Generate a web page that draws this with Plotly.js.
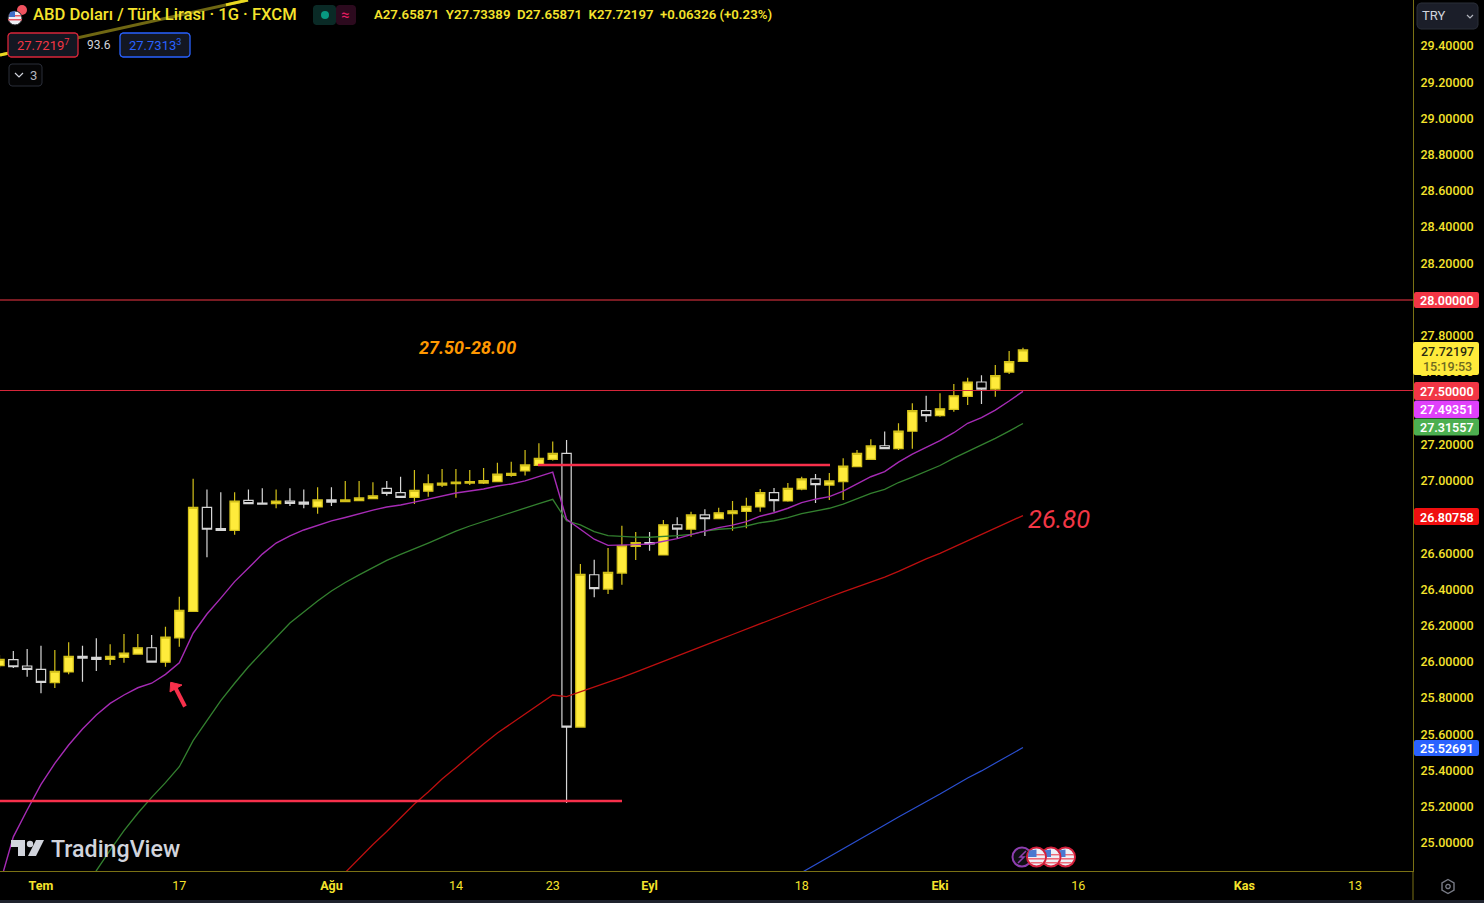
<!DOCTYPE html>
<html><head><meta charset="utf-8">
<script src="https://cdn.plot.ly/plotly-3.0.1.min.js"></script>
<style>html,body{margin:0;padding:0;background:#000;overflow:hidden}#c{width:1484px;height:903px}</style>
</head><body><div id="c"></div>
<script>
const openP=[25.979,26.012,25.977,25.959,25.885,25.944,26.031,26.025,26.014,26.025,26.043,26.078,25.998,26.132,26.279,26.853,26.735,26.726,26.892,26.877,26.873,26.888,26.882,26.855,26.894,26.884,26.890,26.901,26.958,26.934,26.908,26.942,26.976,26.984,26.987,26.987,26.995,27.030,27.054,27.085,27.118,27.151,25.640,26.481,26.402,26.490,26.638,26.658,26.590,26.757,26.732,26.811,26.790,26.818,26.831,26.855,26.934,26.888,26.954,27.010,26.976,26.995,27.077,27.118,27.193,27.177,27.273,27.387,27.359,27.394,27.466,27.545,27.506,27.600,27.65871];
const highP=[26.038,26.060,26.071,26.089,26.065,26.108,26.089,26.130,26.097,26.154,26.154,26.148,26.194,26.360,27.011,26.952,26.936,26.936,26.952,26.958,26.952,26.958,26.952,26.964,26.964,26.998,26.998,26.991,26.998,27.022,27.059,27.036,27.065,27.065,27.059,27.070,27.099,27.105,27.170,27.207,27.216,27.225,26.540,26.564,26.628,26.752,26.717,26.717,26.783,26.798,26.829,26.842,26.851,26.888,26.906,26.954,26.960,26.987,27.022,27.037,27.042,27.124,27.170,27.229,27.271,27.317,27.427,27.469,27.483,27.534,27.569,27.582,27.639,27.716,27.73389];
const lowP=[25.966,25.966,25.918,25.826,25.855,25.931,25.890,25.950,25.983,25.995,26.043,25.998,25.973,26.084,26.279,26.577,26.726,26.702,26.873,26.871,26.848,26.860,26.848,26.818,26.860,26.884,26.890,26.901,26.917,26.908,26.871,26.912,26.965,26.906,26.976,26.982,26.995,27.022,27.029,27.085,27.111,25.221,25.640,26.356,26.375,26.426,26.562,26.614,26.590,26.682,26.691,26.695,26.790,26.724,26.737,26.829,26.829,26.884,26.947,26.877,26.894,26.894,27.077,27.118,27.177,27.170,27.177,27.324,27.353,27.381,27.418,27.423,27.464,27.589,27.65871];
const closeP=[26.014,25.973,25.959,25.887,25.948,26.031,26.020,26.014,26.031,26.049,26.078,25.998,26.137,26.285,26.853,26.732,26.726,26.888,26.873,26.871,26.888,26.875,26.871,26.894,26.882,26.894,26.905,26.917,26.930,26.908,26.947,26.982,26.987,26.993,26.995,27.000,27.036,27.041,27.087,27.124,27.151,25.640,26.483,26.404,26.494,26.641,26.658,26.651,26.757,26.733,26.811,26.790,26.823,26.834,26.859,26.934,26.890,26.958,27.010,26.978,26.999,27.081,27.151,27.192,27.177,27.274,27.387,27.359,27.397,27.469,27.545,27.506,27.580,27.657,27.72197];
const purpleMA=[24.768,25.034,25.182,25.324,25.440,25.541,25.629,25.707,25.771,25.817,25.857,25.882,25.931,25.995,26.158,26.264,26.352,26.443,26.518,26.595,26.656,26.695,26.728,26.755,26.778,26.797,26.819,26.838,26.855,26.866,26.882,26.899,26.916,26.932,26.943,26.954,26.971,26.982,26.999,27.021,27.047,26.787,26.734,26.677,26.643,26.643,26.647,26.651,26.667,26.680,26.702,26.722,26.741,26.755,26.774,26.804,26.823,26.848,26.879,26.898,26.912,26.943,26.982,27.022,27.050,27.103,27.147,27.184,27.221,27.265,27.317,27.348,27.390,27.440,27.49351];
const greenMA=[24.746,24.847,24.961,25.068,25.164,25.252,25.333,25.421,25.565,25.675,25.786,25.882,25.973,26.054,26.137,26.214,26.275,26.336,26.391,26.438,26.480,26.518,26.560,26.593,26.623,26.656,26.689,26.722,26.750,26.775,26.800,26.827,26.852,26.874,26.897,26.779,26.756,26.719,26.697,26.691,26.689,26.688,26.691,26.697,26.704,26.722,26.732,26.737,26.750,26.768,26.779,26.796,26.818,26.833,26.848,26.871,26.901,26.930,26.952,26.990,27.020,27.053,27.084,27.125,27.161,27.197,27.234,27.274,27.31557];
const redMA=[24.837,24.914,24.992,25.063,25.138,25.215,25.282,25.353,25.417,25.483,25.547,25.607,25.660,25.712,25.767,25.817,25.808,25.834,25.861,25.885,25.914,25.943,25.972,26.002,26.032,26.060,26.090,26.121,26.151,26.181,26.209,26.239,26.270,26.300,26.328,26.358,26.386,26.413,26.441,26.468,26.499,26.535,26.568,26.599,26.634,26.670,26.706,26.739,26.772,26.80758];
const blueMA=[24.837,24.880,24.923,24.967,25.011,25.055,25.099,25.143,25.185,25.226,25.270,25.315,25.359,25.398,25.442,25.483,25.52691];
const yTicks=[25,25.2,25.4,25.6,25.8,26,26.2,26.4,26.6,27,27.2,27.6,27.8,28.2,28.4,28.6,28.8,29,29.2,29.4];
const xTickIdx=[3,13,24,33,40,47,58,68,78,90,98];
const xTickText=['<b>Tem</b>','17','<b>Ağu</b>','14','23','<b>Eyl</b>','18','<b>Eki</b>','16','<b>Kas</b>','13'];

const W=1413,H=871,FONT='Roboto, "Liberation Sans", sans-serif',YEL='#f5e32c',AXIS='#7a7114';
const px=x=>x/W, py=y=>1-y/H;
const idx=(a,n)=>a.map((_,k)=>k+n);
const P=(d)=>d.replace(/([MLHVZ])|(-?[\d.]+),(-?[\d.]+)/g,(m,c,a,b)=>c?c:px(+a)+','+py(+b));
const line=(x0,y0,x1,y1,color,width)=>({type:'line',xref:'paper',yref:'paper',x0:px(x0),y0:py(y0),x1:px(x1),y1:py(y1),line:{color,width}});
const rrect=(x0,y0,x1,y1,r,fill,stroke,w)=>{
  const s=r*0.3,pts=`M${x0+r},${y0} L${x1-r},${y0} L${x1-s},${y0+s} L${x1},${y0+r} L${x1},${y1-r} L${x1-s},${y1-s} L${x1-r},${y1} L${x0+r},${y1} L${x0+s},${y1-s} L${x0},${y1-r} L${x0},${y0+r} L${x0+s},${y0+s} Z`;
  return {type:'path',xref:'paper',yref:'paper',path:P(pts),fillcolor:fill,line:{color:stroke||'rgba(0,0,0,0)',width:w||0}};};
const circ=(cx,cy,r,fill,stroke,w)=>({type:'circle',xref:'paper',yref:'paper',x0:px(cx-r),x1:px(cx+r),y0:py(cy+r),y1:py(cy-r),fillcolor:fill,line:{color:stroke||'rgba(0,0,0,0)',width:w||0}});
const path=(d,fill,stroke,w)=>({type:'path',xref:'paper',yref:'paper',path:P(d),fillcolor:fill||'rgba(0,0,0,0)',line:{color:stroke||'rgba(0,0,0,0)',width:w||0}});
const txt=(x,y,text,size,color,anchor,extra)=>Object.assign({xref:'paper',yref:'paper',x:px(x),y:py(y),text,showarrow:false,xanchor:anchor||'left',yanchor:'middle',borderpad:0,font:Object.assign({family:FONT,size,color},extra||{})});

const flag=(cx,cy,r)=>[
  circ(cx,cy,r,'#eef0f6','#d3203c',2),
  path(`M${cx-r+1},${cy-3} L${cx+r-1},${cy-3} L${cx+r-1},${cy-1.6} L${cx-r+1},${cy-1.6} Z`,'#ee6a78'),
  path(`M${cx-r+1},${cy+1} L${cx+r-1},${cy+1} L${cx+r-1},${cy+2.6} L${cx-r+1},${cy+2.6} Z`,'#ee6a78'),
  path(`M${cx-r+3},${cy+5} L${cx+r-3},${cy+5} L${cx+r-4},${cy+6.4} L${cx-r+4},${cy+6.4} Z`,'#ee6a78'),
  path(`M${cx-r+2},${cy-r+3} L${cx},${cy-r+2} L${cx},${cy} L${cx-r+1},${cy} Z`,'#4a78d0')
];

const shapes=[
  line(0,55,248,0,'#6f6712',3),
  line(0,55,8,53.2,'#e8d820',3),
  line(226,4.9,248,0,'#e8d820',3),
  line(0,300,W,300,'#f23645',1),
  line(0,390.5,W,390.5,'#d5263a',1),
  line(538,465,830,465,'#f7304b',2.5),
  line(0,801,622,801,'#f7304b',2.5),
  line(185,706.5,175.5,688,'#f7304b',4),
  path('M170.7,682.3 L170,692 L182,685 Z','#f7304b','#f7304b',1),
  rrect(8,33,78,57,3,'#131722','#d9263a',1.3),
  rrect(120,33,190,57,3,'#131722','#2962ff',1.3),
  rrect(9,64,42,86,3,'#050506','#2a2e39',1),
  path('M15,73 L19,77 L23,73','rgba(0,0,0,0)','#d1d4dc',1.2),
  rrect(313,5,336,25,3,'#0a2a26'),
  rrect(336,5,356,25,3,'#2c0a1e'),
  circ(325,15,4,'#089981'),
  circ(22,10,5,'#f0525f'),
  circ(15,18,7,'#eef0f6','#202024',1),
  path('M9,15 L21,15 L21,16.5 L9,16.5 Z','#e65a66'),
  path('M8,19 L22,19 L22,20.5 L8,20.5 Z','#e65a66'),
  path('M10,12 L15,11 L15,17 L9,17 Z','#3f6fc8'),
  rrect(1417,3,1478,29,4,'#1b1e29','#2a2e39',1),
  path('M1467,15 L1470,18 L1473,15','rgba(0,0,0,0)','#b2b5be',1.2),
  rrect(1414,292,1479,308,2,'#f23645'),
  rrect(1413,342,1479,375,2,'#ffeb3b'),
  rrect(1414,382,1479,400,2,'#f23645'),
  rrect(1414,400.5,1479,418,2,'#e040fb'),
  rrect(1414,418.5,1479,435.5,2,'#4caf50'),
  rrect(1414,508,1479,525,2,'#f00f0f'),
  rrect(1414,740,1479,756,2,'#2962ff'),
  line(W,H,W,903,AXIS,1),
  line(0,901.5,1484,901.5,'#1e222d',3),
  path('M1448,879.5 L1454,883 L1454,890 L1448,893.5 L1442,890 L1442,883 Z','rgba(0,0,0,0)','#787b86',1.4),
  circ(1448,886.5,2.2,'rgba(0,0,0,0)','#787b86',1.3),
  path('M11,840 L25,840 L25,856 L18,856 L18,847 L11,847 Z','#d1d4dc'),
  circ(30,844,3.2,'#d1d4dc'),
  path('M36,840 L44,840 L36,856 L28,856 Z','#d1d4dc'),
  circ(1022,857,9.5,'#101014','#8e3fb0',2),
  path('M1026,851 L1020,857 L1024,857 L1018,863','rgba(0,0,0,0)','#8e3fb0',1.5)
].concat(flag(1065.5,857,9.5),flag(1051,857,9.5),flag(1036.5,857,9.5));

const annotations=[
  txt(32,15,'ABD Doları / Türk Lirası · 1G · FXCM',16.6,YEL,'left',{weight:500}),
  txt(344.5,15,'≈',15,'#e91e63','center'),
  txt(373,15,'A27.65871  Y27.73389  D27.65871  K27.72197  +0.06326 (+0.23%)',13.2,YEL,'left',{weight:600}),
  txt(43,45,'27.7219<sup>7</sup>',13,'#f23645','center'),
  txt(99,45,'93.6',12,'#d1d4dc','center'),
  txt(155,45,'27.7313<sup>3</sup>',13,'#2962ff','center'),
  txt(33,75,'3',13,'#b2b5be','center'),
  txt(1421,16,'TRY',13,'#d1d4dc','left'),
  txt(1447,300,'28.00000',12.5,'#ffffff','center',{weight:600}),
  txt(1447,351,'27.72197',12.5,'#2a2a10','center',{weight:500}),
  txt(1447,366,'15:19:53',12.5,'#6f6a20','center',{weight:500}),
  txt(1447,391,'27.50000',12.5,'#ffffff','center',{weight:600}),
  txt(1447,409,'27.49351',12.5,'#ffffff','center',{weight:600}),
  txt(1447,427,'27.31557',12.5,'#ffffff','center',{weight:600}),
  txt(1447,517,'26.80758',12.5,'#ffffff','center',{weight:600}),
  txt(1447,748,'25.52691',12.5,'#ffffff','center',{weight:600}),
  txt(467,347.5,'<b><i>27.50-28.00</i></b>',18,'#ff9800','center'),
  txt(1059,519,'<i>26.80</i>',25.5,'#f23645','center'),
  txt(50,849,'TradingView',23.2,'#d1d4dc','left',{weight:500})
];

const traces=[
  {type:'scatter',mode:'lines',x:idx(redMA,25),y:redMA,line:{color:'#bd0f0f',width:1.3},hoverinfo:'skip'},
  {type:'scatter',mode:'lines',x:idx(blueMA,58),y:blueMA,line:{color:'#2a4fd0',width:1.2},hoverinfo:'skip'},
  {type:'scatter',mode:'lines',x:idx(greenMA,6),y:greenMA,line:{color:'#33802f',width:1.3},hoverinfo:'skip'},
  {type:'scatter',mode:'lines',x:idx(purpleMA,0),y:purpleMA,line:{color:'#a62bb5',width:1.4},hoverinfo:'skip'},
  {type:'candlestick',x:idx(openP,0),open:openP,high:highP,low:lowP,close:closeP,whiskerwidth:0,
   increasing:{line:{color:'#d2c01a',width:1.2},fillcolor:'#ffeb3b'},
   decreasing:{line:{color:'#d6d6d6',width:1.2},fillcolor:'rgba(0,0,0,0)'},hoverinfo:'skip'}
];

const layout={
  width:1484,height:903,margin:{l:0,r:71,t:0,b:32,pad:0},
  paper_bgcolor:'#000',plot_bgcolor:'#000',showlegend:false,boxmode:'group',boxgap:0.18,boxgroupgap:0.18,
  font:{family:FONT,color:YEL},
  xaxis:{type:'linear',range:[0.036,102.2],tickmode:'array',tickvals:xTickIdx,ticktext:xTickText,
    showgrid:false,zeroline:false,showline:true,linecolor:AXIS,linewidth:1,ticks:'outside',ticklen:3,tickcolor:'rgba(0,0,0,0)',
    tickfont:{family:FONT,size:12.5,color:YEL},rangeslider:{visible:false},fixedrange:true},
  yaxis:{side:'right',range:[24.8454,29.6538],tickmode:'array',tickvals:yTicks,tickformat:'.5f',
    showgrid:false,zeroline:false,showline:true,linecolor:AXIS,linewidth:1,ticks:'outside',ticklen:4,tickcolor:'rgba(0,0,0,0)',
    tickfont:{family:FONT,size:12.5,color:YEL,weight:500},fixedrange:true},
  shapes,annotations
};
Plotly.newPlot('c',traces,layout,{displayModeBar:false,staticPlot:true});
</script></body></html>
